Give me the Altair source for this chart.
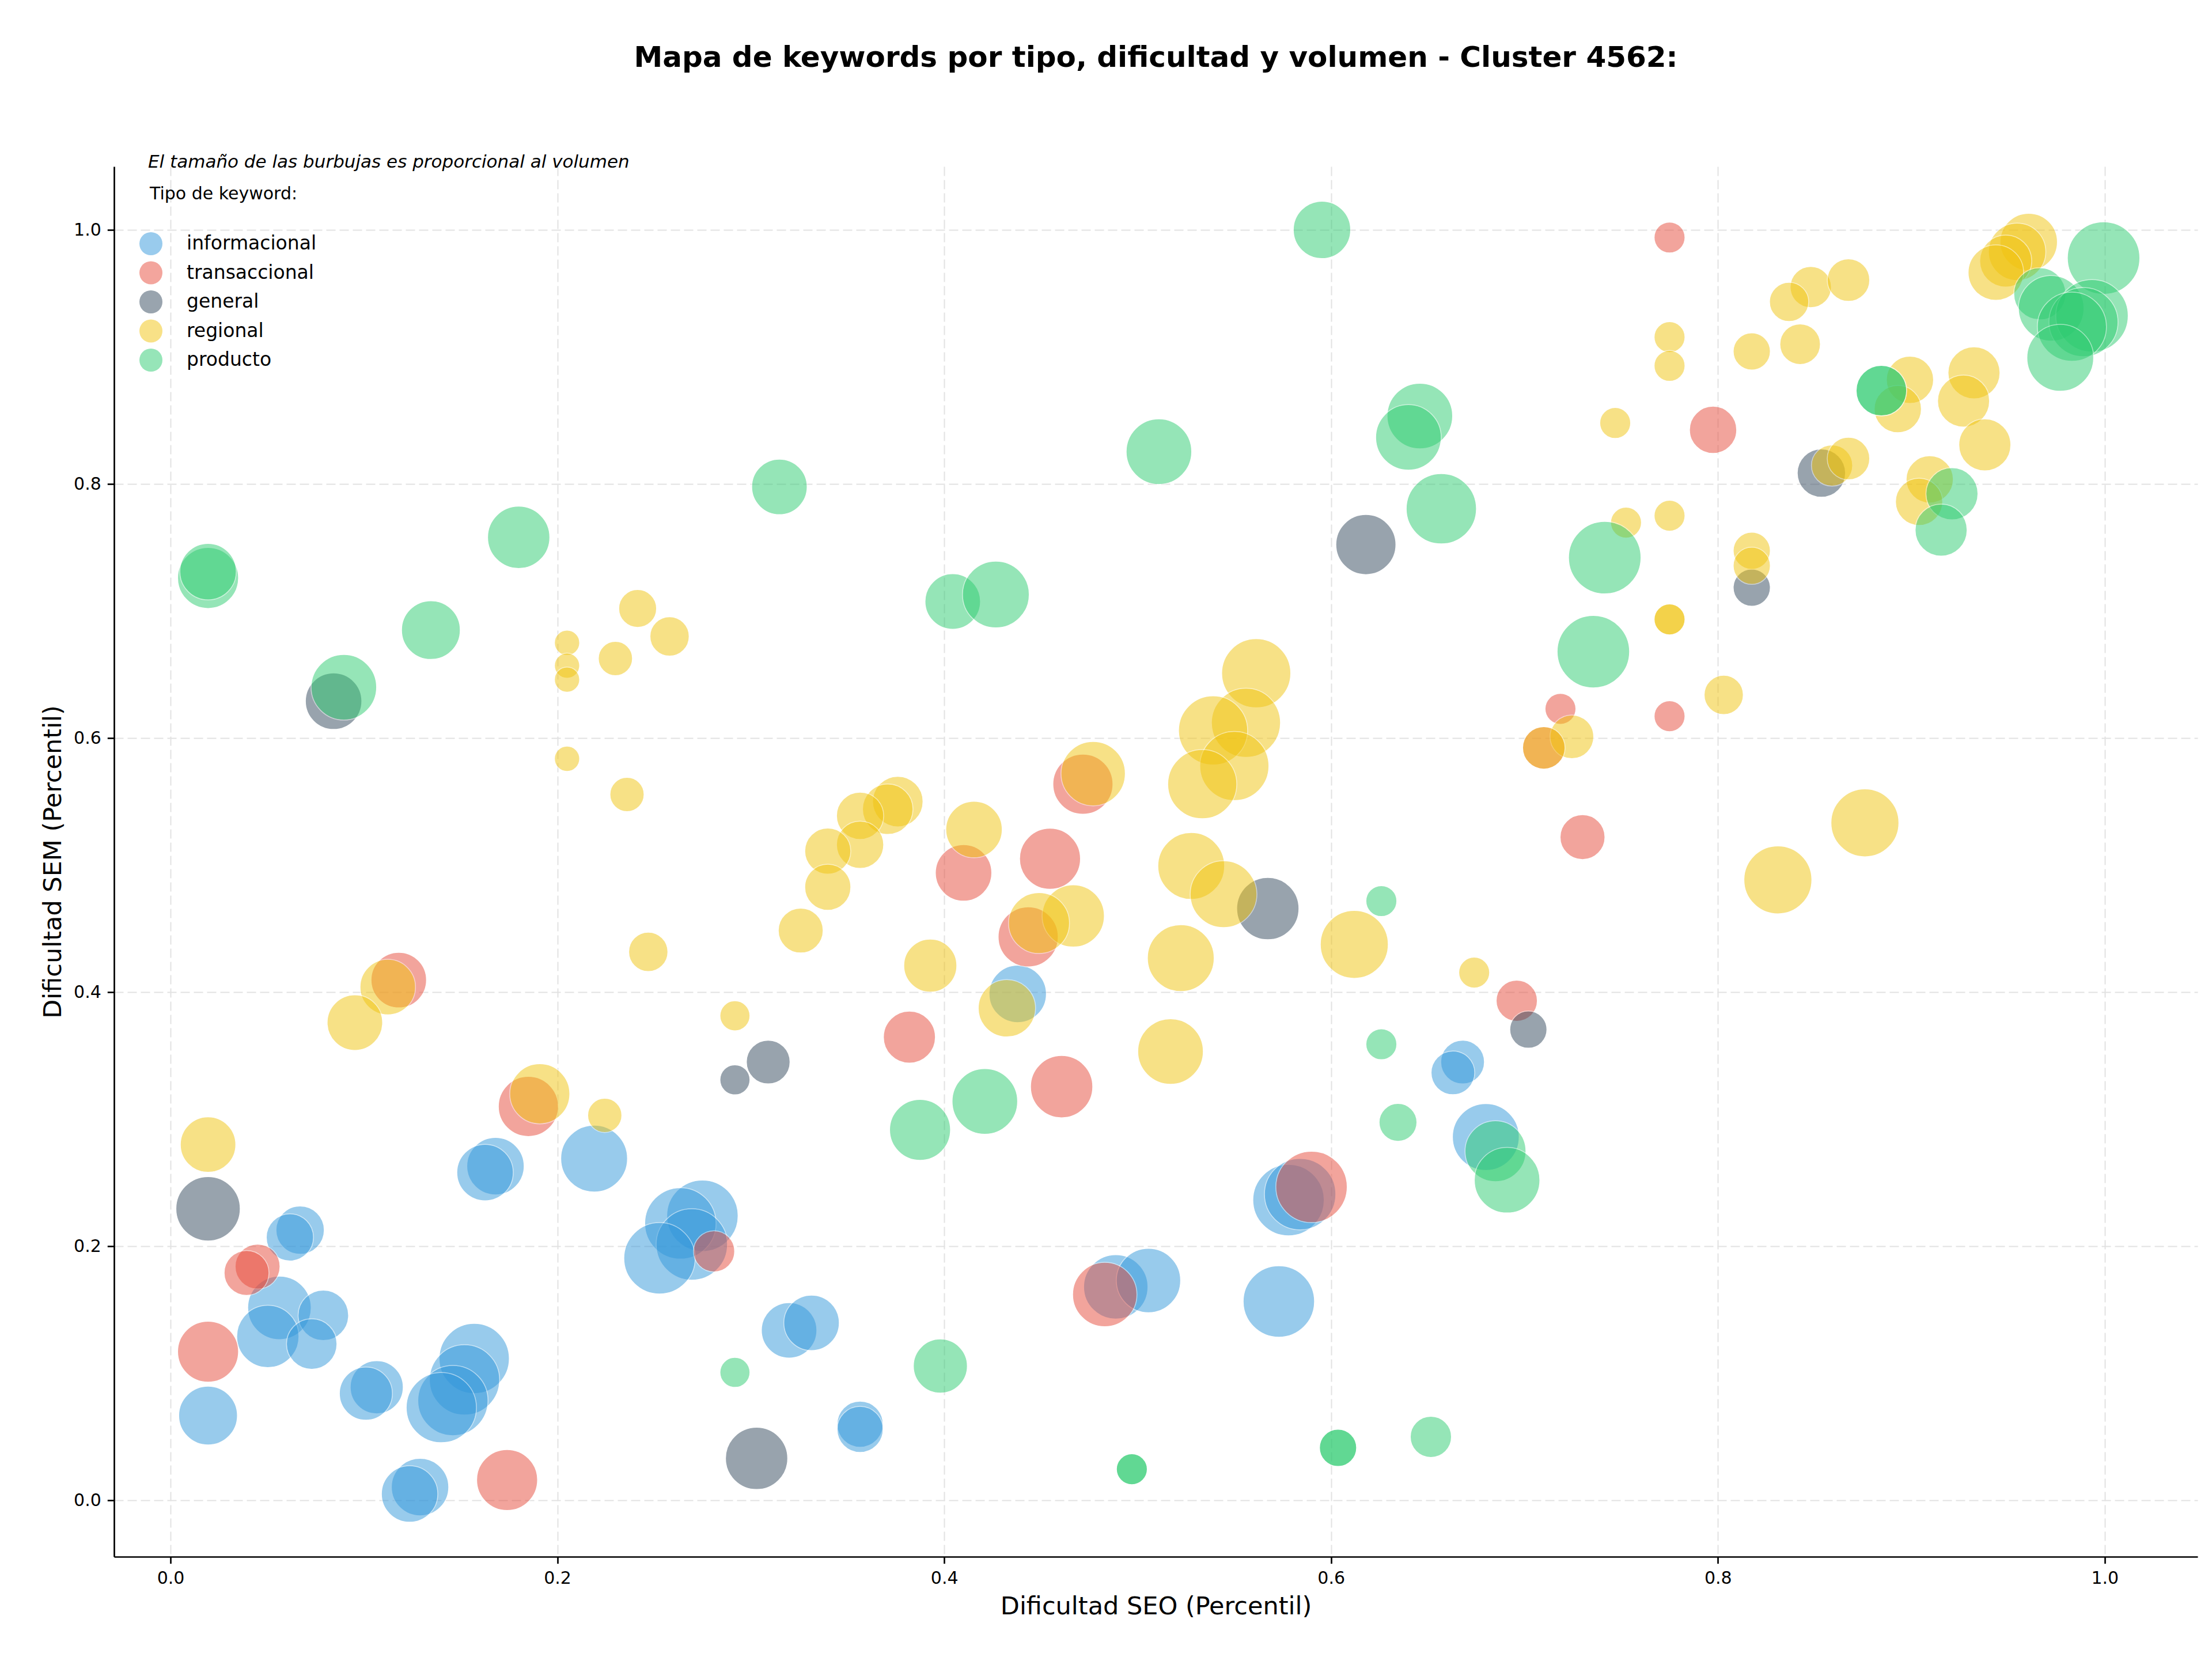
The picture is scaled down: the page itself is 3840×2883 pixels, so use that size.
import altair as alt
import pandas as pd

# --- keyword data per tipo: dificultad SEO, dificultad SEM (percentiles) y volumen ---
informacional_seo = [0.168, 0.1626, 0.219, 0.067, 0.0617, 0.0563, 0.0503, 0.079, 0.073, 0.0194,
                     0.1066, 0.101, 0.157, 0.152, 0.146, 0.140, 0.129, 0.1236, 0.275, 0.2636,
                     0.2695, 0.2528, 0.3198, 0.3314, 0.3565, 0.3565, 0.4887, 0.5056, 0.573, 0.578,
                     0.584, 0.680, 0.438, 0.668, 0.663]
informacional_sem = [0.263, 0.258, 0.269, 0.2127, 0.207, 0.1515, 0.129, 0.1456, 0.123, 0.0667,
                     0.089, 0.084, 0.1116, 0.0948, 0.0785, 0.073, 0.0104, 0.005, 0.224, 0.218,
                     0.2014, 0.1905, 0.1338, 0.1397, 0.0599, 0.0558, 0.168, 0.173, 0.1565, 0.2363,
                     0.241, 0.286, 0.3986, 0.345, 0.3365]
informacional_vol = [620, 600, 840, 440, 420, 760, 730, 480, 480, 650,
                     530, 530, 930, 930, 930, 930, 620, 600, 960, 960,
                     960, 960, 580, 580, 400, 400, 780, 780, 960, 960,
                     960, 840, 620, 360, 360]

transaccional_seo = [0.775, 0.7975, 0.7186, 0.775, 0.710, 0.730, 0.696, 0.4717, 0.410, 0.4547,
                     0.4434, 0.382, 0.4607, 0.483, 0.5899, 0.118, 0.185, 0.045, 0.0393, 0.0194,
                     0.174, 0.281]
transaccional_sem = [0.994, 0.8426, 0.623, 0.6172, 0.5923, 0.522, 0.3932, 0.5637, 0.4939, 0.505,
                     0.4435, 0.3646, 0.3256, 0.162, 0.2467, 0.4095, 0.310, 0.184, 0.179, 0.117,
                     0.016, 0.196]
transaccional_vol = [180, 420, 180, 180, 340, 380, 320, 680, 600, 700,
                     680, 510, 730, 780, 960, 580, 680, 380, 380, 700,
                     700, 320]

general_seo = [0.618, 0.0843, 0.309, 0.2918, 0.0194, 0.303, 0.5673, 0.8535, 0.8175, 0.702]
general_sem = [0.7523, 0.629, 0.345, 0.331, 0.2295, 0.033, 0.4658, 0.8086, 0.7184, 0.3705]
general_vol = [680, 600, 360, 170, 780, 730, 730, 440, 260, 260]

regional_seo = [0.9607, 0.9547, 0.9488, 0.9437, 0.848, 0.8675, 0.8368, 0.8425, 0.8175, 0.775,
                0.775, 0.7469, 0.8993, 0.893, 0.9324, 0.927, 0.938, 0.859, 0.8675, 0.9095,
                0.904, 0.7525, 0.775, 0.8175, 0.8175, 0.775, 0.775, 0.803, 0.7245, 0.710,
                0.876, 0.831,
                0.5613, 0.556, 0.539, 0.550, 0.5334, 0.477, 0.376, 0.3708, 0.3565, 0.3565,
                0.3398, 0.3398, 0.3258, 0.4154, 0.4667, 0.449, 0.5277, 0.5444, 0.612, 0.5223,
                0.3928, 0.4324, 0.517, 0.674,
                0.2415, 0.258, 0.205, 0.205, 0.205, 0.230, 0.205, 0.236, 0.247, 0.1123,
                0.0953, 0.2918, 0.1909, 0.2245, 0.0194]
regional_sem = [0.9905, 0.9828, 0.9755, 0.9664, 0.955, 0.9605, 0.9433, 0.910, 0.9043, 0.9156,
                0.893, 0.848, 0.882, 0.859, 0.8875, 0.8653, 0.8308, 0.8145, 0.820, 0.8036,
                0.786, 0.7696, 0.775, 0.7474, 0.7356, 0.6934, 0.6934, 0.634, 0.601, 0.5923,
                0.5333, 0.4884,
                0.651, 0.612, 0.606, 0.578, 0.5637, 0.572, 0.550, 0.544, 0.5388, 0.516,
                0.511, 0.4826, 0.4485, 0.528, 0.460, 0.4544, 0.4993, 0.4771, 0.4376, 0.4268,
                0.4209, 0.3873, 0.3533, 0.4154,
                0.702, 0.680, 0.675, 0.657, 0.646, 0.6626, 0.5837, 0.5556, 0.4317, 0.404,
                0.376, 0.3814, 0.320, 0.303, 0.280]
regional_vol = [620, 620, 510, 580, 320, 340, 290, 310, 260, 180,
                180, 180, 420, 420, 510, 510, 510, 320, 340, 420,
                420, 180, 180, 260, 260, 180, 180, 290, 360, 340,
                870, 870,
                900, 900, 900, 900, 900, 780, 480, 480, 420, 420,
                400, 400, 380, 600, 730, 700, 840, 840, 870, 840,
                530, 620, 810, 180,
                270, 290, 120, 120, 120, 220, 120, 220, 290, 580,
                580, 170, 680, 220, 580]

producto_seo = [0.5953, 0.511, 0.6459, 0.640, 0.657, 0.4044, 0.4267, 0.3148, 0.18, 0.0194,
                0.0194, 0.1346, 0.0896, 0.9994, 0.9664, 0.9723, 0.9934, 0.989, 0.983, 0.977,
                0.8845, 0.8845, 0.921, 0.9154, 0.7415, 0.7356, 0.626, 0.626, 0.6346, 0.685,
                0.691, 0.3875, 0.421, 0.398, 0.2918, 0.497, 0.497, 0.6036, 0.6036, 0.6516]
producto_sem = [1.0, 0.8254, 0.8535, 0.8367, 0.7805, 0.7075, 0.713, 0.7977, 0.758, 0.726,
                0.731, 0.685, 0.640, 0.9778, 0.9497, 0.9383, 0.9324, 0.9274, 0.9238, 0.8993,
                0.8735, 0.8735, 0.7923, 0.7637, 0.742, 0.668, 0.4717, 0.359, 0.2975, 0.2748,
                0.252, 0.2916, 0.314, 0.1057, 0.1007, 0.0245, 0.0245, 0.0413, 0.0413, 0.0499]
producto_vol = [620, 810, 810, 810, 930, 580, 840, 580, 730, 700,
                600, 650, 810, 990, 510, 810, 990, 900, 900, 840,
                480, 480, 510, 510, 990, 990, 180, 180, 270, 700,
                810, 700, 810, 550, 170, 180, 180, 260, 260, 320]

tipos = ["informacional", "transaccional", "general", "regional", "producto"]
colores = ["#3498db", "#e74c3c", "#34495e", "#f1c40f", "#2ecc71"]

series = {
    "informacional": (informacional_seo, informacional_sem, informacional_vol),
    "transaccional": (transaccional_seo, transaccional_sem, transaccional_vol),
    "general": (general_seo, general_sem, general_vol),
    "regional": (regional_seo, regional_sem, regional_vol),
    "producto": (producto_seo, producto_sem, producto_vol),
}

frames = []
for tipo in tipos:
    seo, sem, vol = series[tipo]
    frames.append(pd.DataFrame({"seo": seo, "sem": sem, "volumen": vol, "tipo": tipo}))
df = pd.concat(frames, ignore_index=True)

FONT = "DejaVu Sans"
ticks = [0.0, 0.2, 0.4, 0.6, 0.8, 1.0]

bubbles = alt.Chart(df).mark_circle(
    opacity=0.5, stroke="white", strokeWidth=1.5
).encode(
    x=alt.X("seo:Q",
            scale=alt.Scale(domain=[-0.0292, 1.048], nice=False, zero=False),
            axis=alt.Axis(values=ticks, format=".1f", title="Dificultad SEO (Percentil)")),
    y=alt.Y("sem:Q",
            scale=alt.Scale(domain=[-0.0444, 1.0499], nice=False, zero=False),
            axis=alt.Axis(values=ticks, format=".1f", title="Dificultad SEM (Percentil)")),
    size=alt.Size("volumen:Q", scale=alt.Scale(domain=[0, 1000], range=[0, 16000]), legend=None),
    color=alt.Color("tipo:N",
                    scale=alt.Scale(domain=tipos, range=colores),
                    legend=alt.Legend(title=None, orient="none", legendX=44, legendY=114,
                                      symbolType="circle", symbolSize=1600, symbolOpacity=0.5,
                                      symbolStrokeWidth=0, labelFont=FONT, labelFontSize=33,
                                      labelColor="black", labelOffset=42, rowPadding=10.5,
                                      labelLimit=0, padding=0)),
)

nota = alt.Chart(pd.DataFrame({"t": ["El tamaño de las burbujas es proporcional al volumen"]})).mark_text(
    align="left", baseline="alphabetic", font=FONT, fontSize=31, fontStyle="italic", color="black"
).encode(x=alt.value(59), y=alt.value(2), text="t:N")

leyenda_titulo = alt.Chart(pd.DataFrame({"t": ["Tipo de keyword:"]})).mark_text(
    align="left", baseline="alphabetic", font=FONT, fontSize=30, color="black"
).encode(x=alt.value(62), y=alt.value(57), text="t:N")

chart = alt.layer(bubbles, nota, leyenda_titulo).properties(
    width=3617,
    height=2413,
    autosize=alt.AutoSizeParams(type="none"),
    padding={"left": 198, "top": 289, "right": 25, "bottom": 181},
    background="white",
    title=alt.Title("Mapa de keywords por tipo, dificultad y volumen - Cluster 4562:",
                    font=FONT, fontSize=50, fontWeight="bold", color="black",
                    anchor="middle", frame="group", offset=140),
).configure_view(
    stroke=None
).configure_axis(
    labelFont=FONT, labelFontSize=30, labelColor="black",
    titleFont=FONT, titleFontSize=43, titleFontWeight="normal", titleColor="black",
    domainColor="black", domainWidth=2.7,
    tickColor="black", tickWidth=2.7, tickSize=11.7,
    labelPadding=11, titlePadding=13,
    gridColor="#e2e2e2", gridWidth=2, gridDash=[16, 7],
)

chart.save("out.html", embed_options={"renderer": "svg", "actions": False})
